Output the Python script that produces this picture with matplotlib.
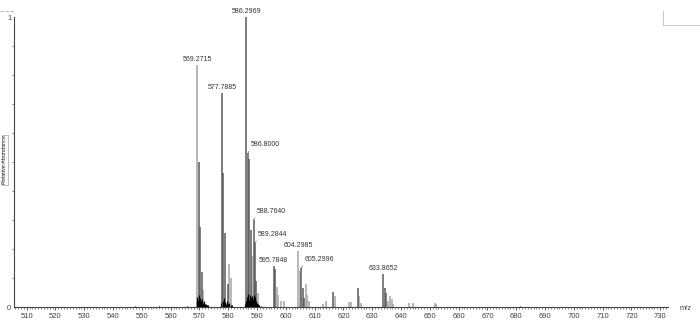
import matplotlib
matplotlib.use("Agg")
import matplotlib.pyplot as plt
from matplotlib.lines import Line2D
from matplotlib.ticker import MultipleLocator, FixedLocator

plt.rcParams['font.family'] = ['Liberation Sans', 'DejaVu Sans']

# main peaks drawn in dark grey
dark_mz = [569.7729, 570.2743, 570.7756, 577.7885, 578.2899, 578.7913, 579.79,
           586.2969, 586.8000, 587.3014, 587.80, 588.7640, 589.2844, 589.78,
           595.7848, 596.2862, 605.2996, 605.80, 606.30, 616.5, 625.0,
           633.8652, 634.37, 634.87]
dark_int = [0.50, 0.276, 0.12, 0.739, 0.463, 0.256, 0.08,
            1.0, 0.53, 0.51, 0.265, 0.30, 0.22, 0.09,
            0.141, 0.13, 0.134, 0.066, 0.03, 0.052, 0.064,
            0.113, 0.064, 0.047]

# peaks drawn in light grey
light_mz = [569.2715, 571.27, 580.30, 581.0, 588.30, 590.3, 596.8, 597.3, 598.3,
            599.2, 604.2985, 604.80, 607.0, 607.5, 608.0, 613.0, 614.0, 617.0,
            621.8, 622.5, 625.5, 626.2, 635.3, 636.2, 636.7, 637.2, 642.8,
            644.0, 651.8, 652.3]
light_int = [0.834, 0.06, 0.15, 0.10, 0.176, 0.05, 0.07, 0.04, 0.02,
             0.02, 0.193, 0.125, 0.08, 0.04, 0.02, 0.012, 0.022, 0.038,
             0.018, 0.016, 0.038, 0.015, 0.02, 0.038, 0.029, 0.01, 0.013,
             0.015, 0.015, 0.012]

# black low-level signal at the base of the clusters
black_mz = [569.0, 569.3, 569.6, 569.9, 570.2, 570.5, 570.8, 571.1, 571.4,
            571.8, 572.2, 572.6, 573.0,
            577.6, 578.0, 578.4, 578.8, 579.2, 579.6, 580.0, 580.4, 580.9, 581.4,
            585.8, 586.1, 586.4, 586.7, 587.0, 587.3, 587.6, 587.9, 588.2,
            588.5, 588.8, 589.1, 589.4, 589.7, 590.0, 590.4, 590.8, 591.2,
            547.6, 556.0, 565.5, 681.3]
black_int = [0.02, 0.035, 0.025, 0.04, 0.03, 0.022, 0.028, 0.015, 0.02,
             0.012, 0.01, 0.008, 0.006,
             0.015, 0.02, 0.03, 0.018, 0.012, 0.02, 0.01, 0.014, 0.008, 0.006,
             0.01, 0.02, 0.035, 0.03, 0.045, 0.025, 0.04, 0.03, 0.038,
             0.028, 0.042, 0.025, 0.035, 0.02, 0.015, 0.01, 0.008, 0.005,
             0.004, 0.004, 0.004, 0.004]

label_mz = [569.2715, 577.7885, 586.2969, 586.8000, 588.7640, 589.2844,
            595.7848, 604.2985, 605.2996, 633.8652]
label_int = [0.834, 0.739, 1.0, 0.53, 0.30, 0.22, 0.141, 0.193, 0.134, 0.113]
label_leader = [False, False, False, True, True, True, False, False, True, False]

fig = plt.figure(figsize=(7, 3.28), dpi=100)
ax = fig.add_axes([14 / 700, 21 / 328, 654 / 700, 290 / 328])

ax.vlines(light_mz, 0, light_int, color='#a4a4a4', lw=1.1)
ax.vlines(dark_mz, 0, dark_int, color='#5a5a5a', lw=1.1)
ax.vlines(black_mz, 0, black_int, color='#000000', lw=0.9)

for mz, h, lead in zip(label_mz, label_int, label_leader):
    txt = '{:.4f}'.format(mz)
    if lead:
        ax.annotate(txt, (mz, h), xytext=(3, 5), textcoords='offset pixels',
                    ha='left', va='bottom', fontsize=5, color='#333333',
                    arrowprops=dict(arrowstyle='-', color='#666666', lw=0.5,
                                    shrinkA=0, shrinkB=0, relpos=(0, 0)))
    else:
        ax.annotate(txt, (mz, h), xytext=(0, 2), textcoords='offset pixels',
                    ha='center', va='bottom', fontsize=5, color='#333333')

ax.set_xlim(505.59, 732.7)
ax.set_ylim(0, 1.0)
for s in ['top', 'right']:
    ax.spines[s].set_visible(False)
for s in ['left', 'bottom']:
    ax.spines[s].set_color('#444444')
    ax.spines[s].set_linewidth(0.8)

ax.xaxis.set_minor_locator(MultipleLocator(1))
ax.set_xticks(range(510, 731, 10))
ax.tick_params(axis='x', which='major', length=2.5, width=0.6, color='#444444',
               labelsize=5.5, labelcolor='#444444', pad=1.5)
ax.tick_params(axis='x', which='minor', length=1.3, width=0.5, color='#555555')

ax.set_yticks([0, 1])
ax.set_yticklabels(['0', '1'])
ax.yaxis.set_minor_locator(FixedLocator([i / 10 for i in range(1, 10)]))
ax.tick_params(axis='y', which='major', length=0, labelsize=5.5,
               labelcolor='#444444', pad=2)
ax.tick_params(axis='y', which='minor', length=1.5, width=0.5, color='#555555')

fig.text(5 / 700, 1 - 160 / 328, 'Relative Abundance', rotation=90, fontsize=4,
         color='#333333', ha='center', va='center',
         bbox=dict(boxstyle='square,pad=0.15', fc='white', ec='#888888', lw=0.4))
fig.text(680 / 700, 1 - 308 / 328, 'm/z', fontsize=5.5, color='#444444',
         ha='left', va='center')

# frame pieces at the corners
fig.add_artist(Line2D([0, 14 / 700], [1 - 11 / 328, 1 - 11 / 328],
                      color='#aaaaaa', lw=0.6, ls=(0, (4, 2))))
fig.add_artist(Line2D([663 / 700, 663 / 700, 1], [1 - 11 / 328, 1 - 25 / 328, 1 - 25 / 328],
                      color='#bbbbbb', lw=0.6))

fig.savefig('out.png', dpi=100)
